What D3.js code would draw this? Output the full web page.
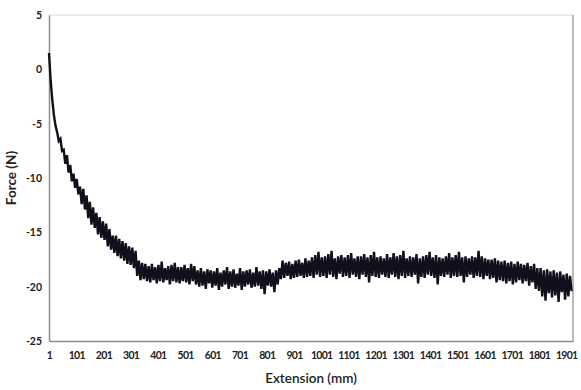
<!DOCTYPE html>
<html>
<head>
<meta charset="utf-8">
<script src="https://cdn.jsdelivr.net/npm/d3@7"></script>
<style>
  body { margin: 0; background: #fff; }
  text { font-family: Lato, "Open Sans", sans-serif; fill: #222; }
</style>
</head>
<body>
<script>
// chart size
const width = 581;
const height = 390;

// data: force readings, one value every `sampleStep` samples starting at sample 1
const sampleStep = 6;
const forceValues = [
  1.5, -1.0, -2.8, -4.2, -5.2, -5.8, -6.6, -6.4, -7.5, -7.4,
  -8.7, -7.9, -9.5, -8.8, -10.3, -9.6, -10.9, -10.1, -11.5, -10.8,
  -12.4, -11.0, -12.9, -11.6, -13.7, -12.2, -14.3, -12.7, -14.6, -13.2,
  -15.2, -13.6, -15.5, -14.0, -15.7, -14.2, -16.3, -14.7, -16.6, -15.3,
  -16.9, -15.3, -17.2, -15.6, -17.4, -15.8, -17.6, -16.0, -17.9, -16.3,
  -18.0, -16.4, -18.3, -16.7, -19.0, -17.6, -19.4, -17.8, -19.3, -17.9,
  -19.5, -18.1, -19.6, -17.9, -19.4, -18.2, -19.7, -18.0, -19.5, -17.7,
  -19.6, -18.3, -19.4, -18.1, -19.8, -18.0, -19.5, -17.8, -19.6, -18.2,
  -19.7, -18.2, -19.5, -18.0, -19.6, -18.3, -19.8, -17.9, -19.5, -18.1,
  -19.8, -18.5, -20.0, -18.3, -19.9, -18.6, -20.2, -18.4, -19.7, -18.5,
  -20.1, -18.6, -19.9, -18.3, -20.3, -18.7, -20.0, -18.5, -19.8, -18.2,
  -20.2, -18.6, -20.0, -18.4, -20.1, -18.8, -19.9, -18.3, -20.3, -18.6,
  -20.0, -18.5, -19.8, -18.4, -20.1, -18.7, -20.0, -18.2, -19.9, -18.6,
  -20.2, -18.5, -20.7, -18.6, -19.9, -18.4, -20.0, -18.7, -20.5, -18.5,
  -19.8, -18.3, -19.3, -17.6, -19.2, -17.8, -19.0, -17.7, -19.3, -17.9,
  -19.2, -17.6, -19.1, -17.5, -19.0, -17.8, -19.2, -17.4, -19.1, -17.6,
  -19.0, -17.3, -19.2, -17.1, -18.9, -16.8, -19.1, -17.3, -19.0, -17.2,
  -19.2, -17.0, -18.9, -16.7, -19.1, -17.4, -19.3, -17.2, -18.8, -17.1,
  -19.1, -17.3, -19.0, -17.1, -19.2, -16.9, -18.9, -17.4, -19.1, -17.2,
  -19.3, -17.2, -18.9, -17.0, -19.1, -17.3, -19.6, -17.1, -19.0, -16.8,
  -19.1, -17.3, -19.2, -17.2, -18.9, -17.4, -19.1, -17.0, -19.2, -17.3,
  -18.9, -16.9, -19.1, -17.2, -19.3, -17.1, -19.0, -16.7, -19.2, -17.4,
  -19.0, -17.2, -19.1, -17.3, -18.9, -17.0, -19.7, -17.4, -19.1, -17.2,
  -19.2, -17.1, -18.9, -16.8, -19.0, -17.3, -19.2, -17.1, -19.8, -17.3,
  -19.0, -17.4, -19.1, -17.2, -18.9, -16.9, -19.2, -17.3, -19.0, -17.1,
  -19.1, -16.8, -19.0, -17.3, -19.6, -17.2, -19.1, -17.4, -18.9, -17.2,
  -19.2, -17.3, -19.0, -16.7, -19.1, -17.2, -19.3, -17.4, -19.0, -17.5,
  -19.3, -17.5, -19.2, -17.4, -19.6, -17.6, -19.4, -17.7, -19.5, -17.6,
  -19.7, -17.8, -19.5, -17.7, -19.8, -17.9, -19.6, -17.7, -19.4, -17.9,
  -19.7, -18.0, -19.5, -17.8, -19.9, -18.1, -19.6, -17.9, -20.2, -18.3,
  -20.4, -18.3, -20.9, -18.5, -21.3, -18.4, -20.6, -18.6, -21.0, -18.5,
  -20.8, -18.7, -21.4, -18.6, -20.5, -18.9, -21.2, -18.8, -20.9, -19.0,
  -20.4
];
const xTickLabels = [1, 101, 201, 301, 401, 501, 601, 701, 801, 901, 1001,
  1101, 1201, 1301, 1401, 1501, 1601, 1701, 1801, 1901];
const yTickValues = [5, 0, -5, -10, -15, -20, -25];
const lastSample = 1926;

const margin = {top: 15, right: 8, bottom: 49, left: 49};
const plotWidth = width - margin.left - margin.right;
const plotHeight = height - margin.top - margin.bottom;

let svg = d3.select('body')
    .append('svg')
    .attr('width', width)
    .attr('height', height);

let plot = svg.append('g')
    .attr('transform', `translate(${margin.left},${margin.top})`);

let xScale = d3.scaleLinear()
    .domain([1, lastSample])
    .range([0, plotWidth]);

let yScale = d3.scaleLinear()
    .domain([-25, 5])
    .range([plotHeight, 0]);

// frame: light top, darker right side
plot.append('line')
    .attr('x1', 0).attr('x2', plotWidth).attr('y1', 0).attr('y2', 0)
    .attr('stroke', '#d9d9d9').attr('stroke-width', 1.2);
plot.append('line')
    .attr('x1', plotWidth).attr('x2', plotWidth).attr('y1', 0).attr('y2', plotHeight)
    .attr('stroke', '#8c8c8c').attr('stroke-width', 1.2);

// axes without tick marks, plain hyphen for negatives
let xAxis = d3.axisBottom(xScale)
    .tickValues(xTickLabels)
    .tickSize(0)
    .tickPadding(11)
    .tickFormat(d => String(d));
let xAxisGroup = plot.append('g')
    .attr('transform', `translate(0,${plotHeight})`)
    .call(xAxis);

let yAxis = d3.axisLeft(yScale)
    .tickValues(yTickValues)
    .tickSize(0)
    .tickPadding(7)
    .tickFormat(d => String(d));
let yAxisGroup = plot.append('g')
    .call(yAxis);

[xAxisGroup, yAxisGroup].forEach(g => {
    g.select('.domain').attr('stroke', '#8c8c8c').attr('stroke-width', 1.5);
    g.selectAll('text')
        .style('font-family', 'Lato, "Open Sans", sans-serif')
        .style('font-size', '10.5px')
        .style('font-weight', 'bold')
        .attr('fill', '#222');
});
// x labels are packed tightly, squeeze them a bit
xAxisGroup.selectAll('text').style('letter-spacing', '-0.7px');

// force line
let line = d3.line()
    .x((d, i) => xScale(1 + i * sampleStep))
    .y(d => yScale(d));

plot.append('path')
    .datum(forceValues)
    .attr('fill', 'none')
    .attr('stroke', '#10101c')
    .attr('stroke-width', 2.4)
    .attr('stroke-linejoin', 'miter')
    .attr('d', line);

// axis titles
svg.append('text')
    .attr('x', margin.left + plotWidth / 2)
    .attr('y', 383)
    .attr('text-anchor', 'middle')
    .style('font-size', '13.5px')
    .style('font-weight', '600')
    .text('Extension (mm)');

svg.append('text')
    .attr('transform', `translate(16,${margin.top + plotHeight / 2}) rotate(-90)`)
    .attr('text-anchor', 'middle')
    .style('font-size', '13.5px')
    .style('font-weight', 'bold')
    .text('Force (N)');
</script>
</body>
</html>
